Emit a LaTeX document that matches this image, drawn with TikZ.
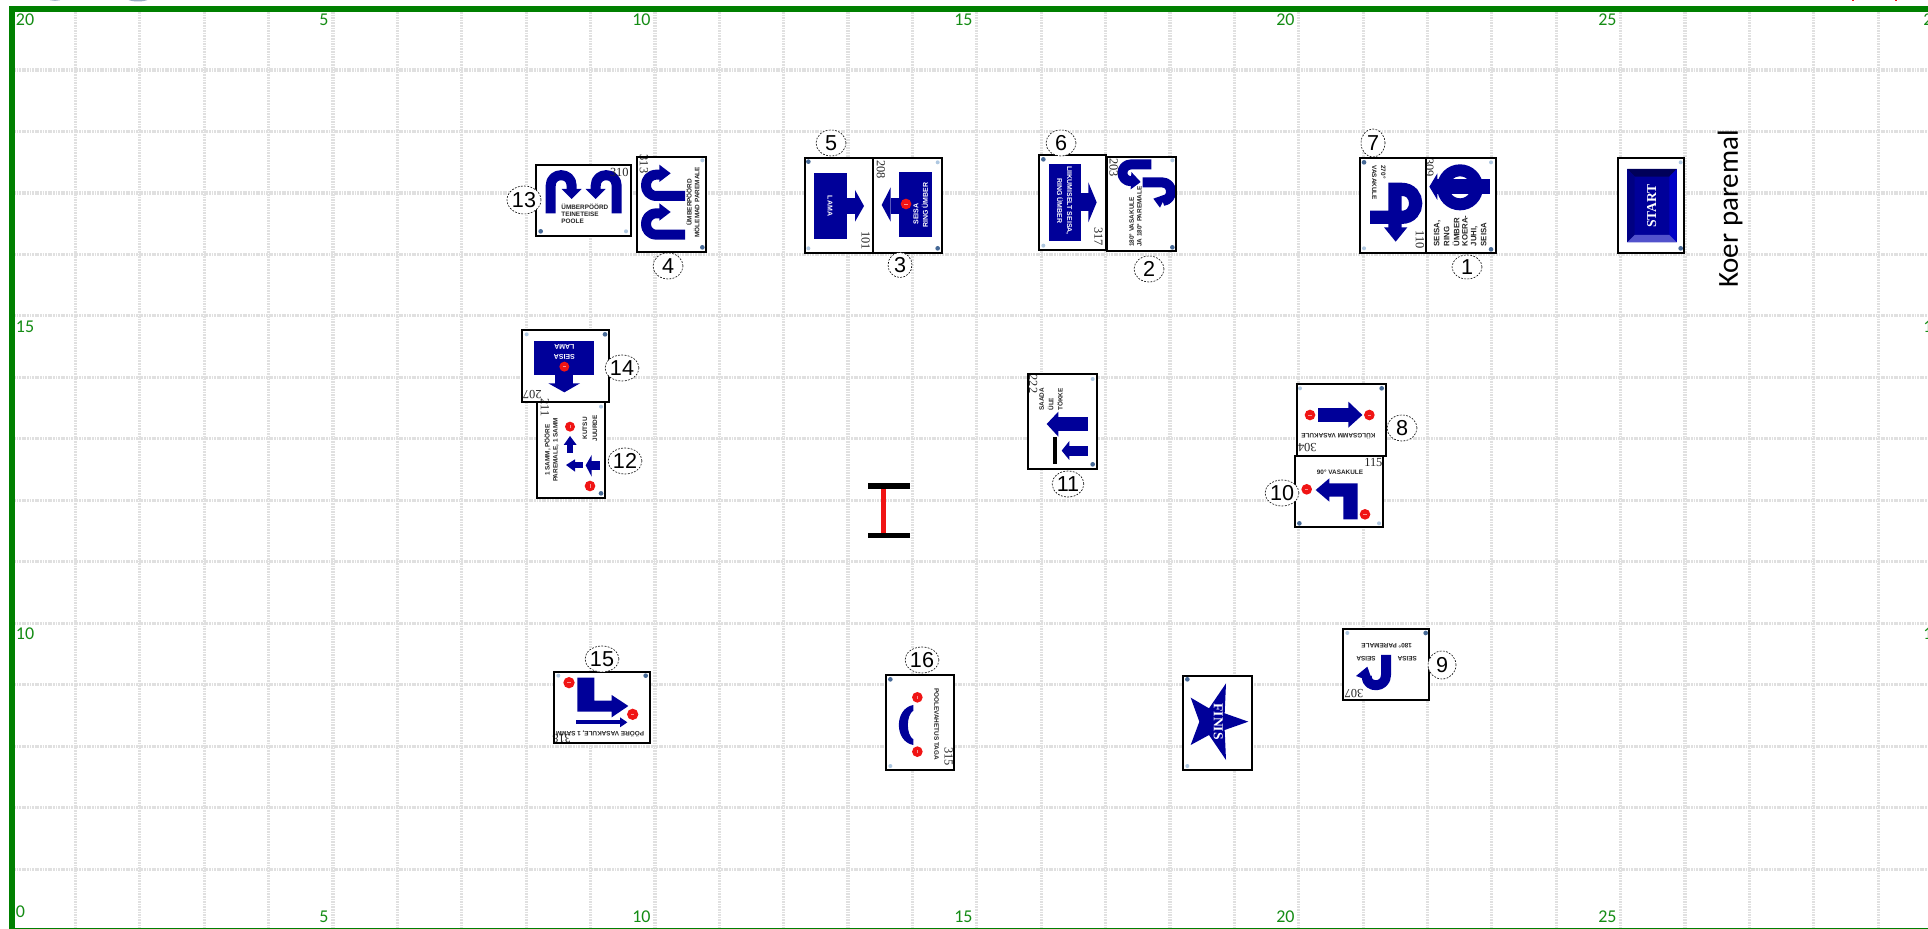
\documentclass[tikz,border=0pt]{standalone}
\usepackage{fontspec}
\usetikzlibrary{shapes.geometric}
\setmainfont{Liberation Sans}
\newfontfamily\cfam{Carlito}
\newfontfamily\rfam{Liberation Serif}
\definecolor{bl}{RGB}{0,0,153}
\definecolor{grn}{RGB}{0,128,0}
\definecolor{txtgrn}{RGB}{20,140,20}
\definecolor{rd}{RGB}{240,20,20}
\definecolor{gridc}{RGB}{224,224,224}
\definecolor{scrd}{RGB}{70,105,150}
\definecolor{scrp}{RGB}{175,200,225}
\tikzset{
 zz/.style={x=0.166667pt,y=-0.166667pt},
 gridl/.style={gridc,line width=1.6pt,dash pattern=on 0.85pt off 0.45pt},
 signfill/.style={fill=white,draw=none},
 signframe/.style={draw=black,line width=1.1pt,line join=miter},
 band/.style={draw=bl,line width=#1,line cap=butt,line join=round},
 band/.default=5pt,
 lbl/.style={inner sep=0,text=black!85,font=\fontsize{3.2}{3.8}\selectfont\bfseries},
 lblb/.style={inner sep=0,text=black!85,font=\fontsize{3.9}{4.5}\selectfont\bfseries},
 wht/.style={inner sep=0,text=white,font=\fontsize{3.5}{4}\selectfont\bfseries},
 num/.style={inner sep=0,text=black!85,font=\rfam\fontsize{6.2}{7}\selectfont},
 gl/.style={inner sep=0,text=txtgrn,font=\cfam\fontsize{9}{10}\selectfont},
 nlab/.style={shape=ellipse,draw=black,fill=white,line width=0.3pt,dash pattern=on 0.9pt off 0.7pt,inner sep=0,
   font=\fontsize{10.8}{11}\selectfont,text=black},
}
\newcommand\dotD[2]{\fill[scrd] (#1,#2) circle[radius=7];}
\newcommand\dotP[2]{\fill[scrp] (#1,#2) circle[radius=6];}
\newcommand\reddot[4][0]{\fill[rd] (#2,#3) circle[radius=#4+1];
  \draw[white!55!rd,line width=0.25pt,rotate around={#1:(#2,#3)}] (#2-5,#3) -- (#2+5,#3);}
\newcommand\tx[5]{\node[#4,rotate=#1] at (#2,#3) {#5};}
\newcommand\sheet[4]{\fill[signfill] (#1,#2) rectangle (#3,#4);}
\newcommand\frm[4]{\draw[signframe] (#1,#2) rectangle (#3,#4);}
\newcommand\labl[6]{\node[nlab,minimum width=#5*1pt,minimum height=#6*1pt] (#1) at (#3,#4) {#2};}
\begin{document}
\begin{tikzpicture}[x=0.5pt,y=-0.5pt]
\useasboundingbox (0,0) rectangle (1928,929);
\fill[white] (0,0) rectangle (1928,929);
% cut-off marks at the top edge
\begin{scope}
\clip (0,0) rectangle (1928,929);
\fill[scrd!55] (55,-5) ellipse [x radius=11,y radius=5.8];
\fill[scrd!55] (138,-6) ellipse [x radius=16,y radius=7.5];
\end{scope}
\fill[rd] (1852,0) rectangle (1854,1);
\fill[rd] (1895,0) rectangle (1897,1);
% grid
\foreach \k in {0,...,28}{\draw[gridl] ({75.5+64.38*\k},12) -- ({75.5+64.38*\k},928);}
\foreach \k in {0,...,13}{\draw[gridl] (14,{70+61.47*\k}) -- (1928,{70+61.47*\k});}
% border
\fill[grn] (9,6) rectangle (1928,12);
\fill[grn] (9,6) rectangle (15,929);
\fill[grn] (15,927.6) rectangle (1928,929);
% scale labels
\node[gl,anchor=west] (a20) at (15.5,20) {20};
\node[gl,anchor=east] (a5) at (329,20) {5};
\node[gl,anchor=east] (a10) at (651,20) {10};
\node[gl,anchor=east] (a15) at (973,20) {15};
\node[gl,anchor=east] (a20b) at (1295,20) {20};
\node[gl,anchor=east] (a25) at (1617,20) {25};
\node[gl,anchor=west] (a2r) at (1923,20) {2};
\node[gl,anchor=west] (l15) at (15.5,327) {15};
\node[gl,anchor=west] (l10) at (15.5,634) {10};
\node[gl,anchor=west] (l0) at (15.5,912) {0};
\node[gl,anchor=west] (r15) at (1923,327) {1};
\node[gl,anchor=west] (r10) at (1923,634) {1};
\node[gl,anchor=east] (b5) at (329,917) {5};
\node[gl,anchor=east] (b10) at (651,917) {10};
\node[gl,anchor=east] (b15) at (973,917) {15};
\node[gl,anchor=east] (b20) at (1295,917) {20};
\node[gl,anchor=east] (b25) at (1617,917) {25};
% ---------- group 1: 13,4,5,3
\begin{scope}[shift={(500,120)},zz]
\sheet{107}{135}{392}{347}
\draw[band] (152,280) -- (152,197) .. controls (152,155) and (215,155) .. (215,197) -- (215,210);
\fill[bl] (215,237) -- (185,207) -- (245,207) -- cycle;
\draw[band] (350,280) -- (350,197) .. controls (350,155) and (287,155) .. (287,197) -- (287,210);
\fill[bl] (287,237) -- (257,207) -- (317,207) -- cycle;
\tx{0}{183}{261}{lbl,anchor=west}{ÜMBERPÖÖRD}
\tx{0}{183}{283}{lbl,anchor=west}{TEINETEISE}
\tx{0}{183}{305}{lbl,anchor=west}{POOLE}
\tx{0}{358}{157}{num}{310}
\dotD{122}{334}\dotP{378}{334}
\frm{107}{135}{392}{347}
\sheet{412}{110}{619}{395}
\draw[band] (555,228) -- (470,228) .. controls (427,228) and (427,164) .. (470,164) -- (482,164);
\fill[bl] (512,160) -- (478,134) -- (478,186) -- cycle;
\draw[band] (555,344) -- (470,344) .. controls (427,344) and (427,280) .. (470,280) -- (482,280);
\fill[bl] (512,276) -- (478,250) -- (478,302) -- cycle;
\tx{90}{567}{247}{lbl}{ÜMBERPÖÖRD}
\tx{90}{590}{247}{lbl}{MÖLEMAD PAREMALE}
\tx{-90}{432}{132}{num}{313}
\dotP{607}{121}\dotD{607}{382}
\frm{412}{110}{619}{395}
\sheet{915}{113}{1120}{400}
\fill[bl] (942,158) rectangle (1042,358);
\fill[bl] (1042,235) rectangle (1066,283);
\fill[bl] (1092,258) -- (1065,210) -- (1065,305) -- cycle;
\tx{-90}{990}{258}{wht}{LAMA}
\tx{-90}{1097}{362}{num}{101}
\dotD{925}{125}\dotP{925}{385}
\frm{915}{113}{1120}{400}
\sheet{1120}{113}{1326}{400}
\fill[bl] (1196,155) rectangle (1296,352);
\fill[bl] (1172,235) rectangle (1196,283);
\fill[bl] (1145,255) -- (1172,202) -- (1172,305) -- cycle;
\reddot{1218}{252}{15}
\tx{90}{1248}{282}{wht}{SEISA}
\tx{90}{1275}{255}{wht}{RING ÜMBER}
\tx{-90}{1143}{148}{num}{208}
\dotP{1313}{127}\dotD{1313}{385}
\frm{1120}{113}{1326}{400}
\end{scope}
% ---------- group 2: 6,2,7,1,START
\begin{scope}[shift={(1020,120)},zz]
\sheet{57}{105}{259}{390}
\fill[bl] (87,132) rectangle (182,362);
\fill[bl] (182,220) rectangle (206,272);
\fill[bl] (230,247) -- (205,187) -- (205,307) -- cycle;
\tx{-90}{147}{242}{wht}{LIIKUMISELT SEISA,}
\tx{-90}{120}{242}{wht}{RING ÜMBER}
\tx{-90}{235}{350}{num}{317}
\dotD{70}{118}\dotP{70}{377}
\frm{57}{105}{259}{390}
\sheet{261}{110}{468}{393}
\draw[band] (394,133) -- (335,133) .. controls (298,133) and (298,184) .. (335,184);
\fill[bl] (362,186) -- (334,156) -- (332,208) -- cycle;
\draw[band] (368,187) -- (425,187) .. controls (462,187) and (462,240) .. (428,243);
\fill[bl] (420,263) -- (400,236) -- (440,222) -- cycle;
\tx{90}{335}{382}{lbl,anchor=west}{180° VASAKULE}
\tx{90}{358}{382}{lbl,anchor=west}{JA 180° PAREMALE}
\tx{-90}{281}{143}{num}{203}
\dotP{457}{121}\dotD{457}{382}
\frm{261}{110}{468}{393}
\sheet{1020}{113}{1217}{400}
\draw[band=6.6pt,line join=miter] (1050,292) -- (1145,292) .. controls (1201,292) and (1201,208) .. (1145,208) -- (1125,208) -- (1125,325);
\fill[bl] (1127,365) -- (1092,322) -- (1162,322) -- cycle;
\tx{-90}{1090}{135}{lbl,anchor=west}{270°}
\tx{-90}{1063}{135}{lbl,anchor=west}{VASAKULE}
\tx{-90}{1200}{358}{num}{110}
\dotD{1032}{127}\dotP{1032}{385}
\frm{1020}{113}{1217}{400}
\sheet{1217}{113}{1428}{400}
\draw[bl,line width=6pt] (1320,202) circle[radius=51];
\fill[bl] (1250,178) rectangle (1410,222);
\fill[bl] (1228,200) -- (1252,160) -- (1252,240) -- cycle;
\tx{90}{1252}{380}{lblb,anchor=west}{SEISA,}
\tx{90}{1280}{380}{lblb,anchor=west}{RING}
\tx{90}{1308}{380}{lblb,anchor=west}{ÜMBER}
\tx{90}{1335}{380}{lblb,anchor=west}{KOERA-}
\tx{90}{1363}{380}{lblb,anchor=west}{JUHI,}
\tx{90}{1391}{380}{lblb,anchor=west}{SEISA}
\tx{-90}{1228}{142}{num}{309}
\dotP{1413}{127}\dotD{1413}{388}
\frm{1217}{113}{1428}{400}
\end{scope}
\begin{scope}[shift={(1360,120)},zz]
\sheet{775}{113}{973}{400}
\fill[bl] (802,147) rectangle (950,367);
\fill[blue!35!black] (802,147) -- (950,147) -- (928,170) -- (824,170) -- cycle;
\fill[bl!85!black] (802,147) -- (824,170) -- (824,345) -- (802,367) -- cycle;
\fill[blue!45!bl] (950,147) -- (928,170) -- (928,345) -- (950,367) -- cycle;
\fill[blue!60!white!80!black] (802,367) -- (824,345) -- (928,345) -- (950,367) -- cycle;
\node[inner sep=0,text=white,rotate=90,font=\rfam\fontsize{6.8}{8}\selectfont\bfseries] at (875,258) {START};
\dotP{962}{127}\dotD{962}{385}
\frm{775}{113}{973}{400}
\end{scope}
\node[inner sep=0,text=black,rotate=90,font=\cfam\fontsize{14.5}{16}\selectfont] (koer) at (1730,209) {Koer paremal};
% ---------- group 3: 14,12
\begin{scope}[shift={(500,320)},zz]
\sheet{67}{30}{326}{245}
\fill[bl] (103,62) rectangle (283,165);
\fill[bl] (165,165) rectangle (220,191);
\fill[bl] (193,217) -- (145,190) -- (240,190) -- cycle;
\reddot{193}{140}{14}
\tx{180}{193}{82}{wht}{LAMA}
\tx{180}{193}{110}{wht}{SEISA}
\tx{180}{97}{225}{num}{207}
\dotP{80}{43}\dotD{315}{43}
\frm{67}{30}{326}{245}
\sheet{110}{247}{315}{533}
\tx{90}{142}{390}{lbl}{1 SAMM, PÖÖRE}
\tx{90}{168}{390}{lbl}{PAREMALE, 1 SAMM}
\tx{90}{255}{325}{lbl}{KUTSU}
\tx{90}{285}{325}{lbl}{JUURDE}
\reddot[90]{210}{320}{14}
\fill[bl] (200,374) rectangle (220,400);
\fill[bl] (210,348) -- (191,375) -- (230,375) -- cycle;
\fill[bl] (224,425) rectangle (250,445);
\fill[bl] (198,435) -- (225,418) -- (225,455) -- cycle;
\fill[bl] (274,422) rectangle (300,450);
\fill[bl] (257,436) -- (275,405) -- (275,470) -- cycle;
\reddot[90]{270}{498}{15}
\tx{-90}{135}{262}{num}{211}
\dotP{303}{260}\dotD{303}{520}
\frm{110}{247}{315}{533}
\end{scope}
% ---------- group 4: 11,8,10
\begin{scope}[shift={(1010,360)},zz]
\sheet{53}{42}{261}{326}
\tx{90}{95}{153}{lbl,anchor=west}{SAADA}
\tx{90}{122}{153}{lbl,anchor=west}{ÜLE}
\tx{90}{150}{153}{lbl,anchor=west}{TÖKKE}
\fill[bl] (144,172) rectangle (233,212);
\fill[bl] (110,192) -- (145,155) -- (145,230) -- cycle;
\fill[bl] (176,257) rectangle (233,287);
\fill[bl] (155,272) -- (178,243) -- (178,300) -- cycle;
\fill[black] (130,232) rectangle (140,313);
\tx{-90}{70}{72}{num}{222}
\dotP{248}{57}\dotD{248}{313}
\frm{53}{42}{261}{326}
\sheet{860}{73}{1127}{288}
\fill[bl] (925,145) rectangle (1016,185);
\fill[bl] (1057,165) -- (1015,125) -- (1015,203) -- cycle;
\reddot{900}{165}{15}\reddot{1078}{165}{15}
\tx{180}{985}{230}{lbl}{KÜLGSAMM VASAKULE}
\tx{180}{892}{263}{num}{304}
\dotP{870}{85}\dotD{1115}{85}
\frm{860}{73}{1127}{288}
\sheet{856}{289}{1120}{500}
\fill[bl] (1043,478) -- (1000,478) -- (1000,410) -- (958,410) -- (958,425) -- (917,390) -- (958,355) -- (958,370) -- (1043,370) -- cycle;
\reddot{890}{388}{15}\reddot{1065}{463}{15}
\tx{0}{990}{336}{lbl}{90° VASAKULE}
\tx{0}{1090}{308}{num}{115}
\dotD{868}{490}\dotP{1107}{490}
\frm{856}{289}{1120}{500}
\end{scope}
% ---------- jump
\begin{scope}[shift={(840,460)},zz]
\fill[rd] (122,86) rectangle (138,218);
\fill[black] (85,70) rectangle (210,86);
\fill[black] (85,218) rectangle (210,233);
\end{scope}
% ---------- group 5: 15,16
\begin{scope}[shift={(540,640)},zz]
\sheet{42}{97}{330}{310}
\fill[bl] (112,113) -- (163,113) -- (163,182) -- (215,182) -- (215,165) -- (265,198) -- (215,232) -- (215,215) -- (112,215) -- cycle;
\fill[bl] (108,240) rectangle (241,253);
\fill[bl] (262,247) -- (240,232) -- (240,262) -- cycle;
\reddot{87}{128}{16}\reddot{278}{223}{16}
\tx{180}{180}{282}{lbl}{PÖÖRE VASAKULE, 1 SAMM}
\tx{180}{65}{296}{num}{318}
\dotP{55}{107}\dotD{317}{107}
\frm{42}{97}{330}{310}
\sheet{1038}{104}{1243}{390}
\fill[bl] (1120,195) .. controls (1062,205) and (1062,305) .. (1120,315) -- (1120,298) .. controls (1098,285) and (1098,225) .. (1120,212) -- cycle;
\reddot[90]{1132}{172}{15}\reddot[90]{1132}{335}{15}
\tx{-90}{1190}{252}{lbl}{POOLEVAHETUS TAGA}
\tx{-90}{1226}{350}{num}{315}
\dotD{1051}{118}\dotP{1051}{378}
\frm{1038}{104}{1243}{390}
\end{scope}
% ---------- group 6: FINIS, 9
\begin{scope}[shift={(1170,620)},zz]
\sheet{40}{168}{245}{450}
\fill[bl] (235,305) -- (164,330) -- (168,420) -- (117,345) -- (62,375) -- (88,305) -- (62,233) -- (117,265) -- (168,190) -- (164,280) -- cycle;
\node[inner sep=0,text=white,rotate=-90,font=\rfam\fontsize{6.8}{8}\selectfont\bfseries] at (145,305) {FINIS};
\dotD{52}{178}\dotP{52}{438}
\frm{40}{168}{245}{450}
\sheet{520}{27}{778}{240}
\draw[band] (648,105) -- (648,165) .. controls (648,205) and (590,205) .. (590,170);
\fill[bl] (558,168) -- (592,140) -- (608,186) -- cycle;
\tx{180}{650}{78}{lbl}{180° PAREMALE}
\tx{180}{588}{115}{lbl}{SEISA}
\tx{180}{712}{115}{lbl}{SEISA}
\tx{180}{552}{222}{num}{307}
\dotP{532}{39}\dotD{767}{39}
\frm{520}{27}{778}{240}
\end{scope}
% ---------- numbered circles
\labl{n1}{1}{1467}{267}{15}{12}
\labl{n2}{2}{1149}{269}{15}{13}
\labl{n3}{3}{900}{265}{12}{12.5}
\labl{n4}{4}{668}{266}{15}{13}
\labl{n5}{5}{831}{143}{15}{13}
\labl{n6}{6}{1061}{143}{15}{13}
\labl{n7}{7}{1373}{143}{12}{14}
\labl{n8}{8}{1402}{428}{15}{13}
\labl{n9}{9}{1442}{665}{14}{14}
\labl{n10}{10}{1282}{493}{14}{13}
\labl{n11}{11}{1068}{484}{15}{13}
\labl{n12}{12}{625}{461}{16}{13}
\labl{n13}{13}{524}{200}{10.5}{14}
\labl{n14}{14}{622}{368}{13.5}{13}
\labl{n15}{15}{602}{659}{14}{13}
\labl{n16}{16}{922}{660}{11}{13}
\end{tikzpicture}
\end{document}
